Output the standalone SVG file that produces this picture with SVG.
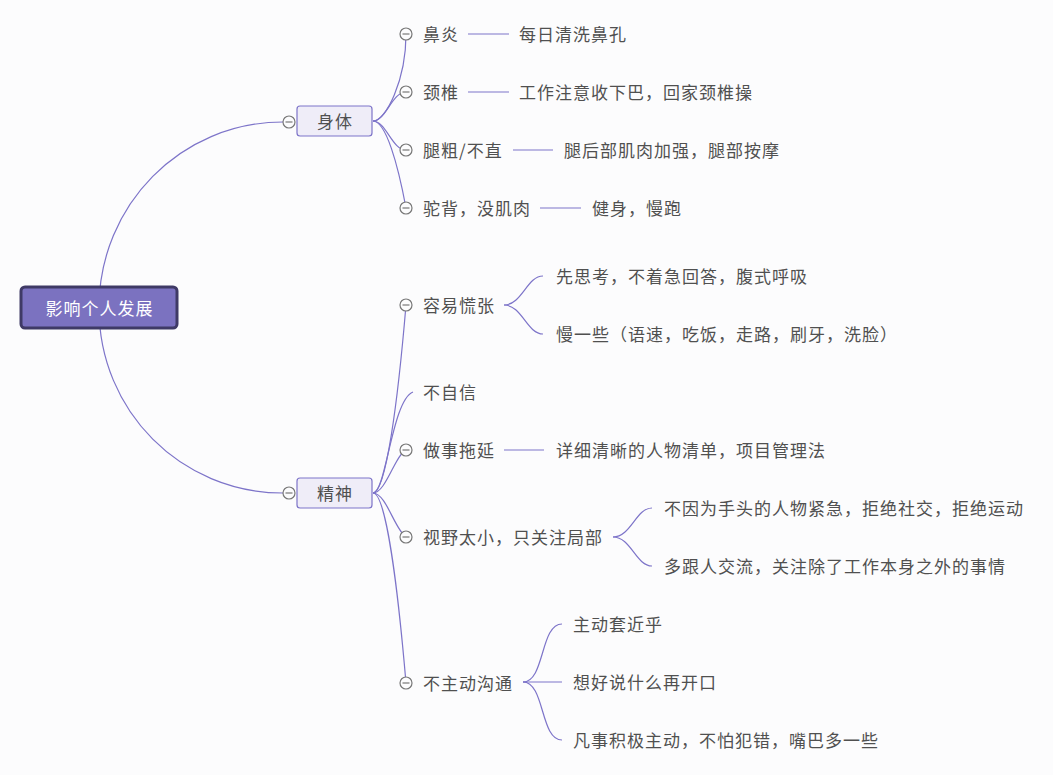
<svg xmlns="http://www.w3.org/2000/svg" width="1053" height="775" viewBox="0 0 1053 775">
<style>
.bg{fill:#fcfcfd}
.ln{fill:none;stroke:#7d74c9;stroke-width:1.2}
.t{font-family:"Noto Sans CJK SC","Noto Sans",sans-serif;font-size:17px;letter-spacing:1px;fill:#505050;dominant-baseline:central}
.tc{text-anchor:middle}
.root{fill:#7b72c0;stroke:#3f3a66;stroke-width:3}
.rt{font-family:"Noto Sans CJK SC","Noto Sans",sans-serif;font-size:17px;letter-spacing:1px;fill:#ffffff;text-anchor:middle;dominant-baseline:central}
.mb{fill:#efedf8;stroke:#7d74c9;stroke-width:1.2}
.cc{fill:#fcfcfd;stroke:#777;stroke-width:1.2}
.cm{stroke:#777;stroke-width:1.2}
</style>
<defs>
<g id="col"><circle class="cc" r="6"/><line class="cm" x1="-3.5" y1="0" x2="3.5" y2="0"/></g>
</defs>
<rect class="bg" width="1053" height="775"/>
<g id="connectors">
<path class="ln" d="M99 308 C99 205 181 122 283 122"/>
<path class="ln" d="M99 308 C99 411 181 493 283 493"/>
<path class="ln" d="M373 121 C386 121 406 80 406 34"/>
<path class="ln" d="M373 121 C386 121 392 92 406 92"/>
<path class="ln" d="M373 121 C386 121 392 150 406 150"/>
<path class="ln" d="M373 121 C386 121 398 165 406 208"/>
<line class="ln" x1="468" y1="34" x2="509" y2="34"/>
<line class="ln" x1="468" y1="92" x2="509" y2="92"/>
<line class="ln" x1="513" y1="150" x2="553" y2="150"/>
<line class="ln" x1="540" y1="208" x2="581" y2="208"/>
<path class="ln" d="M373 493 C386 493 398 400 406 305"/>
<path class="ln" d="M373 493 C386 493 392 400 413 392"/>
<path class="ln" d="M373 493 C386 493 395 455 406 450"/>
<path class="ln" d="M373 493 C386 493 395 530 406 537"/>
<path class="ln" d="M373 493 C386 493 398 590 406 683"/>
<path class="ln" d="M504 305 C522 305 527 276 543 276"/>
<path class="ln" d="M504 305 C522 305 527 334 543 334"/>
<line class="ln" x1="504" y1="450" x2="544" y2="450"/>
<path class="ln" d="M613 537 C631 537 636 508 652 508"/>
<path class="ln" d="M613 537 C631 537 636 566 652 566"/>
<path class="ln" d="M523 682 C545 682 540 624 562 624"/>
<line class="ln" x1="523" y1="682" x2="562" y2="682"/>
<path class="ln" d="M523 682 C545 682 540 740 562 740"/>
</g>
<g id="root">
<rect class="root" x="21" y="287" width="156" height="41" rx="4"/>
<text class="rt" x="99.5" y="307">影响个人发展</text>
</g>
<g id="n-shenti">
<use href="#col" x="289" y="122"/>
<rect class="mb" x="297" y="106" width="75" height="30" rx="3"/>
<text class="t tc" x="335" y="120.5">身体</text>
</g>
<g id="n-jingshen">
<use href="#col" x="289" y="493"/>
<rect class="mb" x="297" y="478" width="75" height="30" rx="3"/>
<text class="t tc" x="335" y="492.5">精神</text>
</g>
<g id="n-biyan"><use href="#col" x="406" y="34"/><text class="t" x="423" y="33.5">鼻炎</text></g>
<g id="n-biyan-1"><text class="t" x="519" y="33.5">每日清洗鼻孔</text></g>
<g id="n-jingzhui"><use href="#col" x="406" y="92"/><text class="t" x="423" y="91.5">颈椎</text></g>
<g id="n-jingzhui-1"><text class="t" x="519" y="91.5">工作注意收下巴，回家颈椎操</text></g>
<g id="n-tui"><use href="#col" x="406" y="150"/><text class="t" x="423" y="149.5">腿粗/不直</text></g>
<g id="n-tui-1"><text class="t" x="564" y="149.5">腿后部肌肉加强，腿部按摩</text></g>
<g id="n-tuobei"><use href="#col" x="406" y="208"/><text class="t" x="423" y="207.5">驼背，没肌肉</text></g>
<g id="n-tuobei-1"><text class="t" x="592" y="207.5">健身，慢跑</text></g>
<g id="n-huang"><use href="#col" x="406" y="305"/><text class="t" x="423" y="304.5">容易慌张</text></g>
<g id="n-huang-1"><text class="t" x="556" y="275.5">先思考，不着急回答，腹式呼吸</text></g>
<g id="n-huang-2"><text class="t" x="556" y="333.5">慢一些（语速，吃饭，走路，刷牙，洗脸）</text></g>
<g id="n-zixin"><text class="t" x="423" y="391.5">不自信</text></g>
<g id="n-tuoyan"><use href="#col" x="406" y="450"/><text class="t" x="423" y="449.5">做事拖延</text></g>
<g id="n-tuoyan-1"><text class="t" x="556" y="449.5">详细清晰的人物清单，项目管理法</text></g>
<g id="n-shiye"><use href="#col" x="406" y="537"/><text class="t" x="423" y="536.5">视野太小，只关注局部</text></g>
<g id="n-shiye-1"><text class="t" x="664" y="507.5">不因为手头的人物紧急，拒绝社交，拒绝运动</text></g>
<g id="n-shiye-2"><text class="t" x="664" y="565.5">多跟人交流，关注除了工作本身之外的事情</text></g>
<g id="n-goutong"><use href="#col" x="406" y="683"/><text class="t" x="423" y="682.5">不主动沟通</text></g>
<g id="n-goutong-1"><text class="t" x="573" y="623.5">主动套近乎</text></g>
<g id="n-goutong-2"><text class="t" x="573" y="681.5">想好说什么再开口</text></g>
<g id="n-goutong-3"><text class="t" x="573" y="739.5">凡事积极主动，不怕犯错，嘴巴多一些</text></g>
</svg>
